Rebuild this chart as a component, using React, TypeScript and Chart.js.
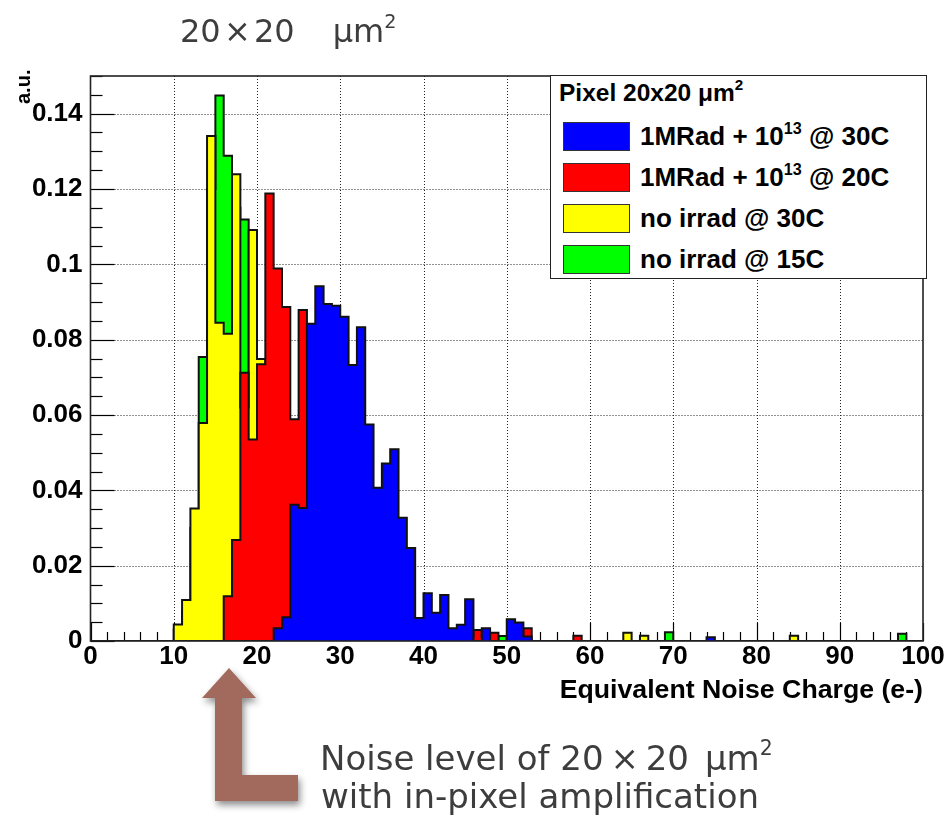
import React, { useEffect, useRef } from "react";
import { Chart, registerables } from "chart.js";

Chart.register(...registerables);

// ---------------- data ----------------
const NBINS = 100;
const xTickValues = [0, 10, 20, 30, 40, 50, 60, 70, 80, 90, 100];
const yTickValues = [0, 0.02, 0.04, 0.06, 0.08, 0.1, 0.12, 0.14];
const yTickLabels = ["0", "0.02", "0.04", "0.06", "0.08", "0.1", "0.12", "0.14"];
const Y_MAX = 0.15;

const seriesLabels = [
  "1MRad + 10^13 @ 30C",
  "1MRad + 10^13 @ 20C",
  "no irrad @ 30C",
  "no irrad @ 15C",
];
const seriesColors = ["#0000ff", "#ff0000", "#ffff00", "#00ff00"];

// 1MRad + 10^13 @ 30C  (bins starting at 22)
const blueFirstBin = 22;
const blueValues = [
  0.0034, 0.0063, 0.0362, 0.0353, 0.0842, 0.0942, 0.0895, 0.089, 0.0861, 0.0733,
  0.0833, 0.0575, 0.0407, 0.0471, 0.0509, 0.0327, 0.0247, 0.0061, 0.0127, 0.0075,
  0.0122, 0.0034, 0.0043, 0.0111, 0, 0.0034, 0, 0, 0.0058, 0.0049, 0.0012,
];
const blueExtraBins = [74];
const blueExtraValues = [0.001];

// 1MRad + 10^13 @ 20C  (bins starting at 16)
const redFirstBin = 16;
const redValues = [
  0.0119, 0.0268, 0.0712, 0.0535, 0.0735, 0.1188, 0.0989, 0.0887, 0.0589, 0.0879,
  0.075, 0.07, 0.06, 0.05, 0.04, 0.03, 0.025, 0.02, 0.015, 0.01,
  0.008, 0.006, 0.004, 0.003, 0.002, 0.002, 0.001, 0.001, 0.001, 0.001,
  0.0029, 0.001, 0.0022, 0, 0.001, 0, 0.0034,
];
const redExtraBins = [58];
const redExtraValues = [0.0014];

// no irrad @ 30C  (bins starting at 10)
const yellowFirstBin = 10;
const yellowValues = [
  0.0044, 0.0109, 0.0352, 0.0579, 0.1341, 0.0845, 0.0816, 0.1239, 0.062, 0.1091,
  0.0749, 0.045, 0.03, 0.02, 0.012, 0.008, 0.005, 0.003, 0.002,
];
const yellowExtraBins = [64, 66, 84];
const yellowExtraValues = [0.0022, 0.0014, 0.0014];

// no irrad @ 15C  (bins starting at 10)
const greenFirstBin = 10;
const greenValues = [
  0.003, 0.008, 0.03, 0.0754, 0.12, 0.1448, 0.1288, 0.115, 0.1119, 0.07,
  0.035, 0.015, 0.008, 0.004, 0.002,
];
const greenExtraBins = [49, 69, 97];
const greenExtraValues = [0.0013, 0.0023, 0.0019];

function buildBins(first: number, values: number[], extraBins: number[], extraValues: number[]) {
  const bins = new Array(NBINS).fill(0);
  values.forEach((v, i) => (bins[first + i] = v));
  extraBins.forEach((b, i) => (bins[b] = extraValues[i]));
  return bins;
}

const seriesBins = [
  buildBins(blueFirstBin, blueValues, blueExtraBins, blueExtraValues),
  buildBins(redFirstBin, redValues, redExtraBins, redExtraValues),
  buildBins(yellowFirstBin, yellowValues, yellowExtraBins, yellowExtraValues),
  buildBins(greenFirstBin, greenValues, greenExtraBins, greenExtraValues),
];

// ---------------- styling helpers ----------------
const ROOT_FONT = '"Liberation Sans", Arial, Helvetica, sans-serif';
const HAND_FONT = '"DejaVu Sans", "Noto Sans", sans-serif';
const HAND_COLOR = "#3d3d3d";

const rootAxesPlugin = {
  id: "rootAxes",
  beforeDatasetsDraw(chart: any) {
    const { ctx, chartArea: a, scales } = chart;
    const x = scales.x;
    const y = scales.y;
    ctx.save();
    // dotted grid
    ctx.strokeStyle = "#222";
    ctx.lineWidth = 1;
    ctx.setLineDash([1, 2]);
    xTickValues.forEach((v) => {
      if (v === 0 || v === 100) return;
      const px = Math.round(x.getPixelForValue(v)) + 0.5;
      ctx.beginPath();
      ctx.moveTo(px, a.top);
      ctx.lineTo(px, a.bottom);
      ctx.stroke();
    });
    yTickValues.forEach((v) => {
      if (v === 0) return;
      const py = Math.round(y.getPixelForValue(v)) + 0.5;
      ctx.beginPath();
      ctx.moveTo(a.left, py);
      ctx.lineTo(a.right, py);
      ctx.stroke();
    });
    ctx.setLineDash([]);
    // inward tick marks
    ctx.strokeStyle = "#000";
    ctx.lineWidth = 1.2;
    for (let i = 0; i <= 50; i++) {
      const v = i * 2;
      const px = Math.round(x.getPixelForValue(v)) + 0.5;
      const len = v % 10 === 0 ? 18 : 9;
      ctx.beginPath();
      ctx.moveTo(px, a.bottom);
      ctx.lineTo(px, a.bottom - len);
      ctx.stroke();
    }
    for (let i = 0; i <= 30; i++) {
      const v = i * 0.005;
      if (v > Y_MAX + 1e-9) break;
      const py = Math.round(y.getPixelForValue(v)) + 0.5;
      const len = i % 4 === 0 ? 24 : 12;
      ctx.beginPath();
      ctx.moveTo(a.left, py);
      ctx.lineTo(a.left + len, py);
      ctx.stroke();
    }
    ctx.restore();
  },
  afterDatasetsDraw(chart: any) {
    const { ctx, chartArea: a } = chart;
    ctx.save();
    ctx.strokeStyle = "#222";
    ctx.lineWidth = 1.6;
    ctx.strokeRect(a.left, a.top, a.right - a.left, a.bottom - a.top);
    ctx.restore();
  },
};

function renderLabel(label: string) {
  const m = label.match(/^(.*)\^(\d+)(.*)$/);
  if (!m) return label;
  return (
    <>
      {m[1]}
      <span style={{ fontSize: "0.62em", position: "relative", top: "-0.7em" }}>{m[2]}</span>
      {m[3]}
    </>
  );
}

export default function App() {
  const canvasRef = useRef<HTMLCanvasElement | null>(null);

  useEffect(() => {
    if (!canvasRef.current) return;
    const datasets = seriesBins.map((bins, si) => {
      const pts = bins.map((v, i) => ({ x: i, y: v }));
      pts.push({ x: NBINS, y: 0 });
      return {
        label: seriesLabels[si],
        data: pts,
        stepped: "before" as const,
        fill: "origin",
        backgroundColor: seriesColors[si],
        borderColor: "#111",
        borderWidth: 2,
        borderJoinStyle: "miter" as const,
        pointRadius: 0,
        tension: 0,
      };
    });

    const chart = new Chart(canvasRef.current, {
      type: "line",
      data: { datasets: datasets as any },
      options: {
        animation: false,
        responsive: false,
        maintainAspectRatio: false,
        layout: { padding: { left: 0, top: 76, right: 25, bottom: 0 } },
        plugins: {
          legend: { display: false },
          tooltip: { enabled: false },
        },
        scales: {
          x: {
            type: "linear",
            min: 0,
            max: 100,
            afterBuildTicks: (s: any) => {
              s.ticks = xTickValues.map((v) => ({ value: v }));
            },
            afterFit: (s: any) => {
              s.height = 827 - 641;
            },
            ticks: {
              autoSkip: false,
              maxRotation: 0,
              padding: 0,
              color: "#000",
              font: { family: ROOT_FONT, size: 26, weight: "bold" },
              callback: (v: any) => String(v),
            },
            grid: { display: false, drawTicks: false },
            border: { display: false },
          },
          y: {
            type: "linear",
            min: 0,
            max: Y_MAX,
            afterBuildTicks: (s: any) => {
              s.ticks = yTickValues.map((v) => ({ value: v }));
            },
            afterFit: (s: any) => {
              s.width = 90.5;
            },
            ticks: {
              autoSkip: false,
              padding: 8,
              color: "#000",
              font: { family: ROOT_FONT, size: 26, weight: "bold" },
              callback: (_v: any, i: number) => yTickLabels[i],
            },
            grid: { display: false, drawTicks: false },
            border: { display: false },
          },
        },
      } as any,
      plugins: [rootAxesPlugin],
    });
    return () => chart.destroy();
  }, []);

  const sup = (t: string) => (
    <span style={{ fontSize: "0.6em", position: "relative", top: "-0.75em" }}>{t}</span>
  );

  return (
    <div style={{ position: "absolute", left: 0, top: 0, width: 948, height: 827, background: "#fff", overflow: "hidden" }}>
      <canvas ref={canvasRef} width={948} height={827} style={{ position: "absolute", left: 0, top: 0, display: "block" }} />

      {/* page title */}
      <div style={{ position: "absolute", left: 180, top: 15, fontFamily: HAND_FONT, fontSize: 32, color: HAND_COLOR, lineHeight: 1, whiteSpace: "nowrap" }}>
        20{"\u200A"}×{"\u200A"}20<span style={{ marginLeft: 38 }}>μm</span>
        {sup("2")}
      </div>

      {/* y axis title */}
      <div style={{ position: "absolute", left: 13, top: 104, transform: "rotate(-90deg)", transformOrigin: "left top", fontFamily: ROOT_FONT, fontWeight: "bold", fontSize: 20, lineHeight: 1, whiteSpace: "nowrap", color: "#000" }}>
        a.u.
      </div>

      {/* x axis title */}
      <div style={{ position: "absolute", right: 948 - 923, top: 676, fontFamily: ROOT_FONT, fontWeight: "bold", fontSize: 26.7, lineHeight: 1, whiteSpace: "nowrap", color: "#000" }}>
        Equivalent Noise Charge (e-)
      </div>

      {/* legend */}
      <div style={{ position: "absolute", left: 550, top: 75, width: 377, height: 204, border: "1.5px solid #222", boxSizing: "border-box", background: "#fff", fontFamily: ROOT_FONT, fontWeight: "bold", color: "#000" }}>
        <div style={{ position: "absolute", left: 8, top: 5, fontSize: 24.5, lineHeight: 1, whiteSpace: "nowrap" }}>
          Pixel 20x20 μm<span style={{ fontSize: "0.62em", position: "relative", top: "-0.7em" }}>2</span>
        </div>
        {seriesLabels.map((lab, i) => (
          <div key={i} style={{ position: "absolute", left: 12, top: 45 + i * 41, height: 30, display: "flex", alignItems: "center", whiteSpace: "nowrap" }}>
            <div style={{ width: 67, height: 29, boxSizing: "border-box", border: "1.5px solid #333", background: seriesColors[i] }} />
            <div style={{ marginLeft: 10, fontSize: 26, lineHeight: 1 }}>{renderLabel(lab)}</div>
          </div>
        ))}
      </div>

      {/* arrow */}
      <svg width={948} height={827} style={{ position: "absolute", left: 0, top: 0, pointerEvents: "none" }}>
        <defs>
          <filter id="shadow" x="-30%" y="-30%" width="160%" height="160%">
            <feDropShadow dx="2" dy="4" stdDeviation="3.5" floodColor="#000" floodOpacity="0.45" />
          </filter>
        </defs>
        <polygon
          points="229,668 256,698 242,698 242,775 298,775 298,801 215,801 215,698 202,698"
          fill="#a26b5c"
          filter="url(#shadow)"
        />
      </svg>

      {/* annotation */}
      <div style={{ position: "absolute", left: 320, top: 741, fontFamily: HAND_FONT, fontSize: 34, color: HAND_COLOR, lineHeight: 1, whiteSpace: "nowrap" }}>
        Noise level of 20{"\u2009"}×{"\u2009"}20<span style={{ marginLeft: 16 }}>μm</span>
        {sup("2")}
      </div>
      <div style={{ position: "absolute", left: 321, top: 779, fontFamily: HAND_FONT, fontSize: 34, color: HAND_COLOR, lineHeight: 1, whiteSpace: "nowrap" }}>
        with in-pixel amplification
      </div>
    </div>
  );
}
